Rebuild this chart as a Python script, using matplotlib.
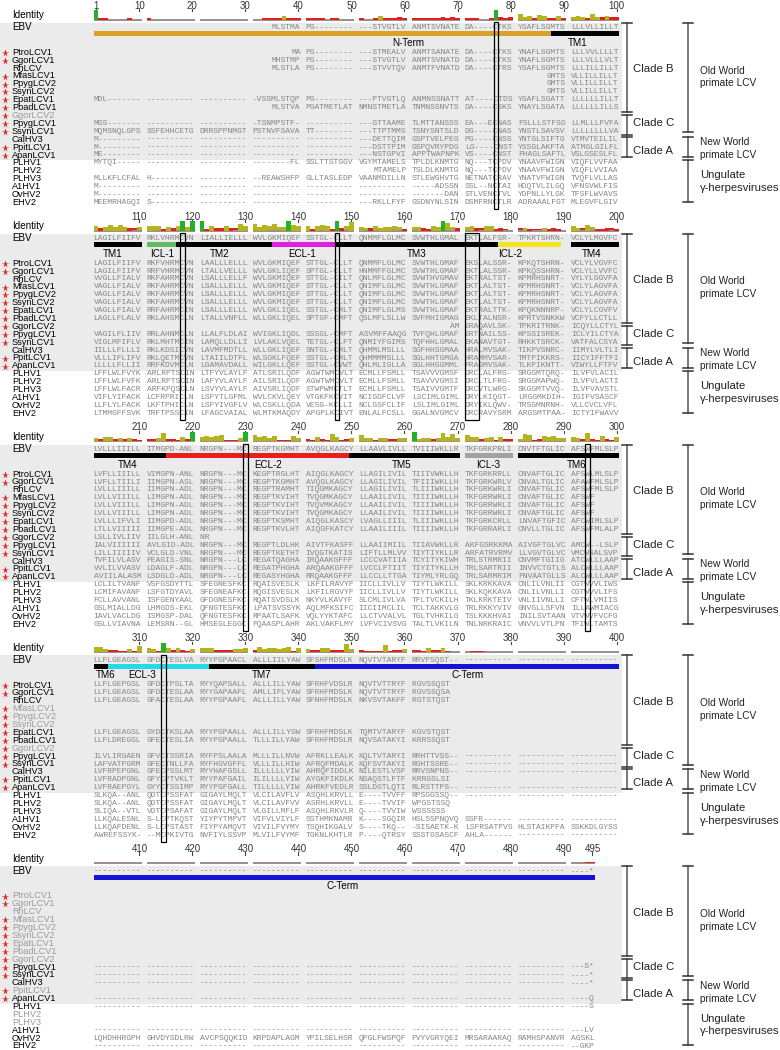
import matplotlib
matplotlib.use("Agg")
import matplotlib.pyplot as plt
from matplotlib.patches import Rectangle

plt.rcParams['font.family'] = ['Liberation Sans', 'DejaVu Sans']

NAMES = ["PtroLCV1", "GgorLCV1", "RhLCV", "MfasLCV1", "PpygLCV2", "SsynLCV2",
         "EpatLCV1", "PbadLCV1", "GgorLCV2", "PpygLCV1", "SsynLCV1", "CalHV3",
         "PpitLCV1", "ApanLCV1", "PLHV1", "PLHV2", "PLHV3", "A1HV1", "OvHV2", "EHV2"]
STARRED = [1, 1, 0, 1, 1, 1, 1, 1, 1, 1, 1, 0, 1, 1, 0, 0, 0, 0, 0, 0]

# '.' = no sequence (terminal gap), '-' = gap; first row of every block is EBV
DASH = "----------"
BLANK = ".........."

BLOCK_1 = [
    ".......... .......... .......... ....MLSTMA PG-------- ---STVGTLV ANMTSVNATE DA----CTKS YSAFLSGMTS LLLVLLILLT",
    ".......... .......... .......... ........MA PG-------- ---STMEALV ANMTSANATE DA----CTKS YNAFLSGMTS LLLVVLLLLT",
    ".......... .......... .......... ....MHSTMP PG-------- ---STVGTLV ANMTSVNATD DA----CTKS YNAFLSGMTS LLLVLLLVLT",
    ".......... .......... .......... ....MLSTLA PG-------- ---STVVTQV ANMTFVNATD DA----CTRS YSAFLSGMTS LLLILLILLT",
    ".......... .......... .......... .......... .......... .......... .......... .......... ......GMTS VLLILLILLT",
    ".......... .......... .......... .......... .......... .......... .......... .......... ......GMTS VLLILLILLT",
    ".......... .......... .......... .......... .......... .......... .......... .......... ......GMTS VLLILLILLT",
    "MDL------- ---------- ---------- -VSSMLSTQP PG-------- ---PTVGTLQ ANMNSSNATT AT----CTDS YSAFLSGATT LLLLLLILLT",
    ".......... .......... .......... ....MLSTVA PGATMETLAT NMNSTMETLA TNMNSSNVTS DA----CSKS YNAYLSGATA LLLLLLILLS",
    "",
    "MGS------- ---------- ---------- -TSNMPSTF- ---------- ---GTTAAME TLMTTANSSS EA---ECNAS FSLLLSTFSG LLMLLLFVFA",
    "MQMSNQLGPS SSFEHHCETG DRRGPPNMGT PSTNVFSAVA TT-------- ---TTPTMMS TSNYSNTSLD DG----CNAS YNSTLSAVSV LLLLLLLLVA",
    "M--------- ---------- ---------- ---------- ---------- ---DETTQIM GSPTVELPEG PG----CNSS YNTGLSIFTG VTMVTEILIL",
    "M--------- ---------- ---------- ---------- ---------- ---DSTTPIM GSPQVRYPDG LG----CNST YSSGLAKFTA ATMGLGILFL",
    "ME-------- ---------- ---------- ---------- ---------- ---NSTGPVI APPTWAPNPK VS----CNST FHAGLSAFTL VSLGSESLFL",
    "MYTQI----- ---------- ---------- --------FL SSLTTSTGGV VGYMTAMELS TPLDLKNMTG NQ---TCPDV YNAAVFWIGN VIQFLVVFAA",
    ".......... .......... .......... .......... .......... ...MTAMELP TSLDLKNMTG NQ---TCPDV YNAAVFWIGN VIQFLVVIAA",
    "MLLKFLCFAL H--------- ---------- --REAWSHFP GLLTASLEDP VAANMDILLN STLEWGHVTG NETNATCRAV YNATVFWIGN TVQFLVLLAS",
    "M--------- ---------- ---------- ---------- ---------- ---------- -----ADSSN SSL--NCTAI HDQTVLILGQ VFNSVWLFIS",
    "M--------- ---------- ---------- ---------- ---------- ---------- -------DAN STLVENCTVL YDPNLLYLGK TFSFLWVAVS",
    "MEEMRHAGQI S--------- ---------- ---------- ---------- ---RKLLFYF GSDNYNLSIN DSMFRNCTLR ADRAAALFGT MLEGVFLGIV",
]

BLOCK_2 = [
    "LAGILFIIFV RKLVHRMCVN LIALLIELLL WVLGKMIQEF SSTGL-CLLT QNMMFLGLMC SVWTHLGMAL EKTLALFSR- TPKRTSHRN- VCLYLMGVFC",
    "LAGILFIIFV RKFVHRMCVN LAALLLELLL WVLGKMIQEF STTGL-CLLT QNMMFLGLMC SVWTHLGMAF EKSLALSSR- KPKQTSHRN- VCLYLVGVFC",
    "LAGILFIIFV RRFVHRMCVN LTALLVELLL WVLGKLIQEF SPTGL-CLLT HNMMFFGLMC SVWTHLGMAF EKTLALSSR- KPKQSSHRN- VCLYLLVVFC",
    "VVGLLFIALV RKFAHRMCVN LSALLLELLF WVLGKMIQEF STTGL-CILT QNLMFLGLMC SVWTHVGMAV EKTRALTST- KPMRHSNRT- VYLYLGGVFA",
    "VAGLLFIALV RKFAHRMCVN LSALLLELLL WVLGKMIQEF STTGL-CLLT QNIMFLGLMC SVWTHLGMAF EKTLALTST- KPMRHSNRT- VCLYLAGVFA",
    "VAGLLFIALV RKFAHRMCVN LSALLLELLL WVLGKMIQEF STTGL-CLLT QNIMFLGLMC SVWTHLGMAF EKTLALTST- KPMRHSNRT- VCLYLAGVFA",
    "VAGLLFIALV RKFAHRMCVN LSALLLELLL WVLGKMIQEF STTGL-CLLT QNIMFLGLMC SVWTHLGMAF EKTLALTST- KPMRHSNRT- VCLYLAGVFA",
    "VAGLLFIALV RRFAHRMCIN LSALLLELLL WVLGKLIQEL SSTGL-CMLT QNIMFLGLMS SVWTHLGMAF EKTRALTTK- KPQKNNNRP- VCLYLCGVFV",
    "LAGLLFLALV RKLAHSMCLN LTALLVNFLL WLLGKLIQEL SPTGF-CMFT QSLMFLSLLW SVFMHIGMAG EKLTALNSR- KPRTVSNKKW VCFYLLCTLL",
    ".......... .......... .......... .......... .......... .......... ........AM ERAQAVLSK- TPKRITRNK- ICQYLLCTYL",
    "VAGILFLIIV RRLAHNMCLN LLALFLDLAI WVIGKLIQDL SSSGL-CMFT ASVMFFAAQG TVFQHLGMAF ERTNAILSS- KPSSISREK- ICLYILCTYA",
    "VIGLMFIFLV RKLMHTMCIN LAMQLLDLLI LVLAKLVQEL TETGL-CLFT QNMIYFGIMS TQFHHLGMAL EKANAVTGT- RHKKTSRCK- VATFALCSYA",
    "IILLLFLLLI RKLKDSICVN LAVMFMDTLL WLLGKLIQEF SNTGL-CMLT QHMMLMSLLL SGFHHSGMAA HRALMVSAK- TIKPVSNRC- IIMYLVLTLI",
    "VLLLIFLIFV RKLQETMCVN LTAIILDTFL WLSGKLFQEF SSTGL-CMLT QHMMMMSLLL SGLHHTGMGA HRAMMVSAR- TMTPIKKRS- IICYIFFTFI",
    "LLLLLFLLII RRFKDVMCLN LGAMAVDALL WILGKLLQEF SSTGL-CVWT QHLMLIGLLA SGLHHGGMML FRAGMVSAK- TLKPIKNTT- VIWYLLFTFV",
    "LFFLWLFVYK ARLRPTSCIN LTFYVLAYLF ATLSRILQDF AGWTWMCVLT ECMLLFSMLL TSAVVVGMSF DRCLALFRG- SRGGMTQRQ- ILVFVLACIL",
    "LFFLWLFVFK ARLRPTSCIN LAFYVLAYLF AILSRILQDF AGWTWMCVLT ECMLLFSMLL TSAVVVGMSI DRCLTLFRG- SRGGMAPWQ- ILVFVLACTI",
    "LFFLWLFACR ARFKPQSCLN LSVYVLAYLF AIVSRLIQDF STWPWMCTLT ECMLLFSMLL TSAIVVGMTF DRCVTLWRG- SKGGMTVVQ- ILVFVAVSTL",
    "VIFLYIFACK LCFRPRICLN LSFYTLGFML WVLCKVLQEY VTGKFKCVIT NCIGDFCLVF LSCIMLGIML DRYLKIQGT- LRGGMKDIH- IGIFVSASCF",
    "LLFLYLFACK LKFTPHICLN LSFYIVGFLV WLCSKLLQDA VESG-KCLLI NCLGSFCLIF LSLIMLGIML DRYIKLQWV- TRSGMNRNH- VLLCVCLVFL",
    "LTMMGFFSVK TRFTPSSCIN LFAGCVAIAL WLMTKMAQDY APGPLKCIVT ENLALFCSLL GGALNVGMCV DRCRAVYSRM ARGSMTPAA- ICTYIFWAVV",
]

BLOCK_3 = [
    "LVLLLIIILL ITMGPD-ANL NRGPN---MC REGPTKGMHT AVQGLKAGCY LLAAVLIVLL TVIIIWKLLR TKFGRKPRLI CNVTFTGLIC AFSWFMLSLP",
    "LVFLLIIILL VIMGPN-ANL NRGPN---MC KEGPTRGLHT AIQGLKAGCY LLAGILIVIL TIIIVWKLLH TKFGRKRRLL CNVAFTGLIC AFSWLMLSLP",
    "LVFLLTIILI IIMGPN-ASL NRGPN---MC REGPTKGMHT AVQGLKAGCY LLAGILIVIL TFIIIWKLLH TKFGRKWRLV CNVALTGLIC AFAWFMLSLP",
    "LVLLLIIILL IIMGPN-ADL NRGPN---MC REGPTRAMHT TIQGMKAGCY LLAGILIVIL TLIIIWKLLH TKFGRKWRLI CNVAFTGLIC AFSWFMLSLP",
    "LVLLVIIILL LIMGPN-ADL NRGPN---MC REGPTKVIHT TVQGMKAGCY LLAAILIVIL TIIIIWKLLH TKFGRRWRLI CNVAFTGLIC AFSWF.....",
    "LVLLVIIILL LIMGPN-ADL NRGPN---MC REGPTKVIHT TVQVMKAGCY LLAAILIVIL TIIIIWKLLH TKFGRRWRLI CNVAFTGLIC AFSWF.....",
    "LVLLVIIILL LIMGPN-ADL NRGPN---MC REGPTKVIHT TVQGMKAGCY LLAAILIVIL TIIIIWKLLH TKFGRRWRLI CNVAFTGLIC AFSWF.....",
    "LVLLLIFVLI IIMGPD-ADL NRGPN---MC REGPTKSMHT AIQGLKASCY LVAGLLIIIL TLIIIWKLLH TKFGRKCRLL LNVAFTGFIC AFCWIMLSLP",
    "LTLLVIIIII IIMGPE-ADL NRGPN---MC REGPTKVLHT AIQGFKATCY LLAAILIIIL TIIIIWKLLH TKFGRRARLI CNVLLTGLIC AFSWFMLALP",
    "LSLLIVLIIV IILGLH-ANL NR........",
    "IALVIIIIII AVLGID-ADL NRGPN---MC REGPTLDLHK AIVTFKASFF LLAAIIMIIL TIIAVWKLLR AKFGSRKKMA AIVGFTGLVC AMCW--LSLP",
    "LILLIIIIIV VCLGLD-VNL NRGPN---MC REGPTKETHT IVQGTKATIS LIFTLLMLVV TIYTIYKLLR ARFATRVRMV LLVGVTGLVC VMCWSALSVP",
    "TVFILVLASV FEAGIS-SNL NRGPN---LC REGATQAGHA IRQAAKGFFF LCCCVATIIA TCYITYKIWH TRLSTRMRII CNVMFTGIIG ATCWLLLAAP",
    "VVLILVVASV LDAGLF-ADL NRGPN---LC REGATPHGHA ARQAAKGFFF LVCCLFTIIT TIYITYKLLH TRLSARTRII INVVCTGTLS ALCWLLLAAP",
    "AVIILALASM LSDGLD-ADL NRGPN---LC REGASYHGHA RRQAAKGFFF LLCCLLTTGA TIYMLYRLGQ TRLSARMRIM FNVAATGLLS ALCWLLLAAP",
    "LCLILTVANF VSFGSDYTTL SFEGNESFKC RQAISVESLK LKFILRAVYF IICLLIVLLV TIYTLWKILL SKLKRKKAVA CNLILVNLII CGTWVVLIWS",
    "LCMIFAVANF LSFGTDYAVL SFEGNEAFKC RQGISVESLK LKFILRGVYF IICLLIVLLV TIYTLWKILL SKLKQKKAVA CNLILVNLLI CGTWVVLIFS",
    "FCLLAVVANL ISFGENYAAL GFDGNESFKC RQATSVDSLK NKYVLKAVYF SLCMLIVLVA TFLTVCKILH TKLKRKTEIV VNLIIVNLLI CFTWLVMIIS",
    "GSLMIALLDG LHMGDS-EKL QFNGTESFKC LPATSVSSYK AQLMFKSIFC IICIIMCLIL TCLTAKKVLG TRLRKKYVIV GNVGLLSFVN ILLAWMIACG",
    "IAVLVACLDG ISMGSP-DAL QFNGTESFKC RPAATLSAFK VQLYYKTAFC LLCTVVALVL TGLTVHKILG TSLKKKHVAI INILSVTAAN VTVWVFVCFG",
    "GSLLVIAVNA LEMSRN--GL HMSEGLEGGC FQAASPLAHR AKLVAKFLMY LVFVCIVSVG TALTLVKILN TNLNRKRAIC VNVVLVTLPN TFIWLTAMTS",
]

BLOCK_4 = [
    "LLFLGEAGSL GFDCTESLVA RYYPGPAACL ALLLIILYAW SFSHFMDSLK NQVTVTARYF RRVPSQST-- ---------- ---------- ----------",
    "LLFLGEPGSL GFDCTPSLTA RYYQAPSALL ALLLILLYAW SFRHFVDSLR NQVTVTTRYF RGVSSQST..",
    "LLFLGEAGSL GFDCTESLAA RYYGAPAAFL AMLLIFLYAW SFRHFMDSLK NQVTVTTRYF RGVSSQSA..",
    "LLFLGEAGSL GFACTESLAA RYYPGPAAFL ALLLILLYAW SFNHFMDSLK NKVSVTAKFF RGTSTQST..",
    "",
    "",
    "",
    "LLFLGEAGSL GYDCTKSLAA RYYPGPAALL ALLLILLYGW SFRHFMDSLK TQMTVTARYF KGVSTQST..",
    "LLFLDREGGL GFECTESLIA RYYPGPAALL TLLLILLYAW SFRHFMDSLR NQVSATAKYI KRRSSQST..",
    "",
    "ILVLIRGAEN GFVCTSSRIA RYFPSLAALA MLLLILLNVW AFRKLLEALK KQLTVTARYI RRHTTVSS-- ---------- ---------- ----------",
    "LAFVATPGRM GFECTNLLFA RYFHGVGFFL VLLLILLHIW AFRQFMDALK KQFSVTAKYI RGHTSSRE-- ---------- ---------- ----------",
    "LVFRPEPGNL GFECPSSLMT RYYHAFGSLL ILLLLLLYIW AHRQFIDDLK NILESTLVSF RRVSNPNS-- ---------- ---------- ----------",
    "LVFRADPGNL GFYCPTVKLT RYYPAFGAIL ILILLLLYIW AYGKFIKDLK NSAQSTLFTF KRRGSLSI..",
    "LVFRAEPGYL GYYCTSSIMP RYYPGFGALL TILLLLLYIW AHRKFVEDLR SSLDGTLQTI RLRSTTPS-- ---------- ---------- ----------",
    "SLKQA--ANL QDTCPSSFAT GIGAYLMQLT VLCILAVFLV ASQHLKRVLL E----TVVFF RPSGGSSQ-- ---------- ---------- ----------",
    "SLKQA--ANL QDTCPSSFAT GIGAYLMQLT VLCILAVFVV ASRHLKRVLL E----TVVIF WPGSTSSQ..",
    "SLIQA--VTL VDTCPSAFAT GIGAYLMQLT VLGILLMFLF ASQHLRKVLR Q----TVVIW WSSSSSS...",
    "LLKQALESNL S-LCPTKQST YIYPYTMPVT VIFVLVIYLF SSTHMKNAMR K----SGQIR HSLSSPNQVQ SSFR------ ---------- ----------",
    "LLKQAFDENL S-LCPSTAST FIYPYAMQVT VIVILFVYMY TSQHIKGALV S----TKQ-- -SISAETK-K LSFRSATPVS HLSTAIKPFA SSKKDLGYSS",
    "AWREFSSYK- --MCPKIVTG NVFIYLSSVP MLVILFVYMF TGKNLKHTLR P----QTRSY SSSTGSASCF AHLA------ ---------- ----------",
]

BLOCK_5 = [
    " ".join([DASH] * 9 + ["----*"]),
    "", "", "", "", "", "", "", "", "",
    " ".join([DASH] * 9 + ["---S*"]),
    " ".join([DASH] * 9 + ["----*"]),
    " ".join([DASH] * 9 + ["----*"]),
    "",
    " ".join([DASH] * 9 + ["----Q"]),
    " ".join([DASH] * 9 + ["----S"]),
    "",
    "",
    " ".join([DASH] * 9 + ["---LV"]),
    "LQHDHHRGPH GHVDYSDLRW AVCPSQQKID KRPDAPLAGM YPILSELHSR QPGLFWSPQF FVYVGRYQEI MRSARAARAQ RAMHSPANVR AGSKL",
    " ".join([DASH] * 9 + ["--GKP"]),
]

BLOCKS = [BLOCK_1, BLOCK_2, BLOCK_3, BLOCK_4, BLOCK_5]
BLOCK_STARTS = [1, 101, 201, 301, 401]
RULERS = [
    [1, 10, 20, 30, 40, 50, 60, 70, 80, 90, 100],
    [110, 120, 130, 140, 150, 160, 170, 180, 190, 200],
    [210, 220, 230, 240, 250, 260, 270, 280, 290, 300],
    [310, 320, 330, 340, 350, 360, 370, 380, 390, 400],
    [410, 420, 430, 440, 450, 460, 470, 480, 490, 495],
]

# domain annotation of EBV: name, first residue, last residue, colour
DOMAINS = [
    ("N-Term", 1, 87, "#d9a228"),
    ("TM1", 88, 110, "#000000"),
    ("ICL-1", 111, 116, "#62bb62"),
    ("TM2", 117, 134, "#000000"),
    ("ECL-1", 135, 146, "#e21ee2"),
    ("TM3", 147, 177, "#000000"),
    ("ICL-2", 178, 189, "#f2e41e"),
    ("TM4", 191, 214, "#000000"),
    ("ECL-2", 215, 249, "#e8201c"),
    ("TM5", 250, 270, "#000000"),
    ("ICL-3", 271, 280, "#a2a2a2"),
    ("TM6", 281, 303, "#000000"),
    ("ECL-3", 304, 322, "#22dbe6"),
    ("TM7", 323, 342, "#000000"),
    ("C-Term", 343, 495, "#1414d8"),
]
DOMAIN_LABELS = [
    ("N-Term", 60.8), ("TM1", 92), ("TM1", 104.5), ("ICL-1", 113.7), ("TM2", 124.7),
    ("ECL-1", 140.7), ("TM3", 161.6), ("ICL-2", 180), ("TM4", 194.9), ("TM4", 207.6),
    ("ECL-2", 233.7), ("TM5", 259.5), ("ICL-3", 275.3), ("TM6", 291.8), ("TM6", 303.1),
    ("ECL-3", 310.6), ("TM7", 332.4), ("C-Term", 371), ("C-Term", 448.2),
]
# boxed (conserved) columns
CONSERVED = [(77, 77), (118, 118), (147, 147), (171, 173), (230, 230), (294, 294), (314, 314)]

X0 = 96.0      # centre of first residue column
CW = 4.82      # width of one residue column
BLOCK_H = 210.9
ROW0 = 52.3
ROW_H = 7.9
SEQ_SIZE = CW / 0.6 * 72 / 100


def parse_block(rows):
    ref = rows[0].split(" ")
    out = []
    for r in rows:
        groups = r.split(" ") if r else []
        while len(groups) < len(ref):
            groups.append(BLANK[:len(ref[len(groups)])])
        out.append(groups)
    return out


def xpos(b, res):
    p = res - BLOCK_STARTS[b]
    g = int(p // 10)
    return X0 + (p + g) * CW


def identity(col):
    chars = [c for c in col if c != "."]
    pairs = 0
    same = 0
    for i in range(len(chars)):
        for j in range(i + 1, len(chars)):
            if chars[i] == "-" and chars[j] == "-":
                continue
            pairs += 1
            if chars[i] == chars[j]:
                same += 1
    return same / pairs if pairs else 0.0


def bracket(ax, x, y0, y1):
    ax.plot([x, x], [y0, y1], color="#555555", lw=1.1)
    ax.plot([x - 5, x + 5], [y0, y0], color="#333333", lw=1.1)
    ax.plot([x - 5, x + 5], [y1, y1], color="#333333", lw=1.1)


def draw_seq(ax, b, groups, y, color="#858585"):
    start = BLOCK_STARTS[b]
    for g, grp in enumerate(groups):
        stripped = grp.lstrip(".")
        if not stripped.strip("."):
            continue
        n = len(grp) - len(stripped)
        x = xpos(b, start + g * 10 + n) - CW / 2
        ax.text(x, y, stripped.replace(".", " "), family="Liberation Mono",
                fontsize=SEQ_SIZE, color=color, ha="left", va="center")


def plot():
    fig = plt.figure(figsize=(7.8, 10.5), dpi=100)
    ax = fig.add_axes([0, 0, 1, 1])
    ax.set_xlim(0, 780)
    ax.set_ylim(1050, 0)
    ax.axis("off")

    for b, rows in enumerate(BLOCKS):
        off = b * BLOCK_H
        start = BLOCK_STARTS[b]
        groups = parse_block(rows)
        flat = ["".join(g) for g in groups]
        nres = len(flat[0])

        # grey background of the LCV rows
        ax.add_patch(Rectangle((0, off + 22.7), 622, 137.3, color="#ebebeb", lw=0, zorder=0))

        # ruler
        for r in RULERS[b]:
            x = xpos(b, r)
            ax.text(x, off + 5.6, str(r), fontsize=7, ha="center", va="center", color="#333333")
            ax.plot([x, x], [off + 8.8, off + 11.2], color="#444444", lw=0.8)

        # identity track
        ax.text(12, off + 15, "Identity", fontsize=7.1, va="center")
        base = off + 19.6
        pos = 0
        for grp in groups[0]:
            x_a = xpos(b, start + pos) - CW / 2
            x_b = xpos(b, start + pos + len(grp) - 1) + CW / 2
            ax.plot([x_a, x_b], [base, base], color="#8a7c78", lw=1.2, solid_capstyle="butt")
            pos += len(grp)
        for i in range(nres):
            idt = identity([row[i] for row in flat])
            if idt <= 0:
                continue
            if idt >= 0.999:
                col = "#22b322"
            elif idt >= 0.3:
                col = "#b5b41c"
            else:
                col = "#dd2020"
            h = max(idt * 9.5, 1.4)
            ax.add_patch(Rectangle((xpos(b, start + i) - CW / 2, base - h), CW, h,
                                   color=col, lw=0, zorder=2))

        # EBV reference row
        ax.text(12, off + 27.3, "EBV", fontsize=7.1, va="center")
        draw_seq(ax, b, groups[0], off + 27.3)

        # domain bar and labels
        last = start + nres - 1
        for name, d0, d1, col in DOMAINS:
            a, e = max(d0, start), min(d1, last)
            if a > e:
                continue
            x_a = xpos(b, a) - CW / 2
            x_b = xpos(b, e) + CW / 2
            ax.add_patch(Rectangle((x_a, off + 31.3), x_b - x_a, 4.6, color=col, lw=0, zorder=2))
        for name, r in DOMAIN_LABELS:
            if start <= r <= last + 0.5:
                ax.text(xpos(b, r), off + 42.7, name, fontsize=7.1, ha="center", va="center")

        # taxa
        for i, name in enumerate(NAMES):
            y = off + ROW0 + i * ROW_H
            empty = not flat[i + 1].strip(".")
            ax.text(12, y, name, fontsize=6.6, va="center",
                    color="#9a9a9a" if empty else "black")
            if STARRED[i]:
                ax.plot(4.5, y + 0.6, "*", color="#e0201c", ms=5.3, mec="none")
            draw_seq(ax, b, groups[i + 1], y)

        # boxes round conserved columns
        for c0, c1 in CONSERVED:
            if start <= c0 <= last:
                x_a = xpos(b, c0) - CW / 2
                x_b = xpos(b, c1) + CW / 2
                ax.add_patch(Rectangle((x_a, off + 22), x_b - x_a, 187, fill=False,
                                       ec="black", lw=0.9, zorder=4))

        # clade brackets
        bracket(ax, 627, off + 22.7, off + 112.3)
        bracket(ax, 627, off + 115, off + 134.5)
        bracket(ax, 627, off + 136.7, off + 156.7)
        ax.text(633, off + 69.3, "Clade B", fontsize=8.2, va="center", color="#222222")
        ax.text(633, off + 123.3, "Clade C", fontsize=8.2, va="center", color="#222222")
        ax.text(633, off + 150.7, "Clade A", fontsize=8.2, va="center", color="#222222")

        bracket(ax, 687.5, off + 22.7, off + 132.3)
        bracket(ax, 687.5, off + 136.7, off + 156.7)
        bracket(ax, 687.5, off + 160, off + 201.7)
        ax.text(700, off + 77, "Old World\nprimate LCV", fontsize=7.3, va="center",
                linespacing=1.35, color="#222222")
        ax.text(700, off + 148.7, "New World\nprimate LCV", fontsize=7.3, va="center",
                linespacing=1.35, color="#222222")
        ax.text(700, off + 181.7, "Ungulate\nγ-herpesviruses", fontsize=8.1, va="center",
                linespacing=1.3, color="#222222")

    fig.savefig("out.png", dpi=100)


if __name__ == "__main__":
    plot()
